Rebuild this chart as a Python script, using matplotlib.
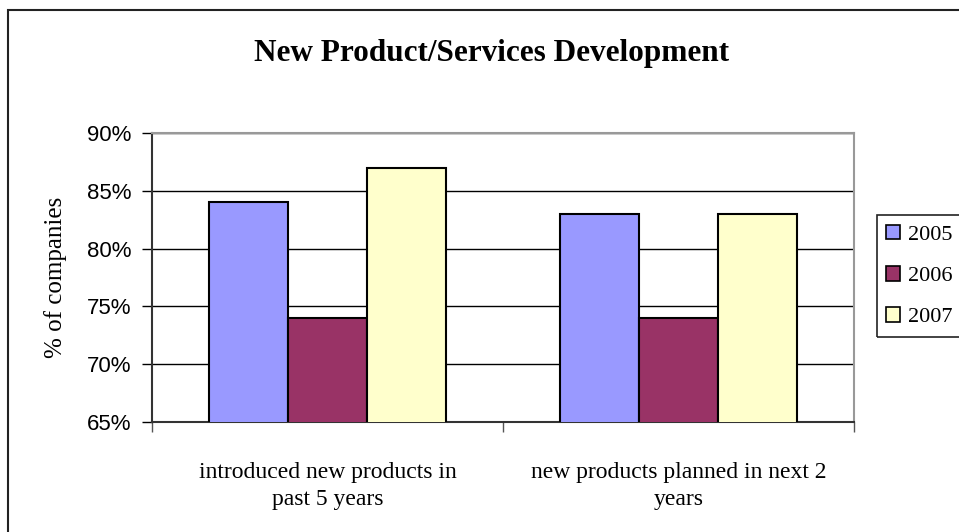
import matplotlib.pyplot as plt
from matplotlib.patches import Rectangle, Patch
from matplotlib.ticker import PercentFormatter
import numpy as np

# data
categories = ["introduced new products in\npast 5 years", "new products planned in next 2\nyears"]
years = ["2005", "2006", "2007"]
v2005 = [84, 83]
v2006 = [74, 74]
v2007 = [87, 83]
colors = ["#9999FF", "#993366", "#FFFFCC"]

serif = "Liberation Serif"
sans = "Liberation Sans"

fig = plt.figure(figsize=(9.59, 5.32), dpi=100)

# outer chart border (runs off the right/bottom edge like the original)
fig.patches.append(Rectangle((8 / 959, -0.05), 1.0, (532 - 10) / 532 + 0.05,
                             transform=fig.transFigure, fill=False,
                             edgecolor="#222222", linewidth=1.5))

ax = fig.add_axes([152 / 959, (532 - 422) / 532, 702 / 959, 289 / 532])

x = np.arange(len(categories))
w = 0.225
for i, (vals, lab) in enumerate(zip([v2005, v2006, v2007], years)):
    ax.bar(x + (i - 1) * w, vals, width=w, color=colors[i], edgecolor="black",
           linewidth=1.5, label=lab, zorder=3)

ax.set_ylim(65, 90)
ax.set_xlim(-0.5, 1.5)
ax.set_yticks([65, 70, 75, 80, 85, 90])
ax.yaxis.set_major_formatter(PercentFormatter(decimals=0))
for t in ax.get_yticklabels():
    t.set_fontfamily(sans)
    t.set_fontsize(16)
ax.tick_params(axis="y", length=7, width=1, pad=8, color="black")
ax.grid(axis="y", color="black", linewidth=1, zorder=0)

# tick marks between categories, labels centred under groups
ax.set_xticks([-0.5, 0.5, 1.5])
ax.set_xticklabels([])
ax.tick_params(axis="x", which="major", length=7, width=1, direction="out", color="#555555")
ax.set_xticks(x, minor=True)
ax.set_xticklabels(categories, minor=True, fontfamily=serif, fontsize=17, linespacing=1.35)
ax.tick_params(axis="x", which="minor", length=0, pad=29)

ax.spines["left"].set_color("#333333")
ax.spines["left"].set_linewidth(1.5)
ax.spines["bottom"].set_color("#333333")
ax.spines["bottom"].set_linewidth(1.5)
ax.spines["top"].set_color("#999999")
ax.spines["top"].set_linewidth(1.5)
ax.spines["right"].set_color("#999999")
ax.spines["right"].set_linewidth(1.5)

ax.set_ylabel("% of companies", fontfamily=serif, fontsize=18, labelpad=14)

fig.text(492 / 959, 1 - 53 / 532, "New Product/Services Development", ha="center", va="center",
         fontfamily=serif, fontsize=22.5, fontweight="bold")

# legend box running off the right edge
fig.patches.append(Rectangle((877 / 959, (532 - 337) / 532), 0.2, 122 / 532,
                             transform=fig.transFigure, fill=False,
                             edgecolor="#222222", linewidth=1.2))
handles = [Patch(facecolor=c, edgecolor="black", linewidth=1.2) for c in colors]
fig.legend(handles, years, loc="center left", bbox_to_anchor=(870 / 959, 1 - 276 / 532),
           frameon=False, prop={"family": serif, "size": 16}, handlelength=0.65,
           handleheight=0.65, handletextpad=0.35, labelspacing=0.95, borderpad=0.2)

fig.savefig("out.png", dpi=100)
